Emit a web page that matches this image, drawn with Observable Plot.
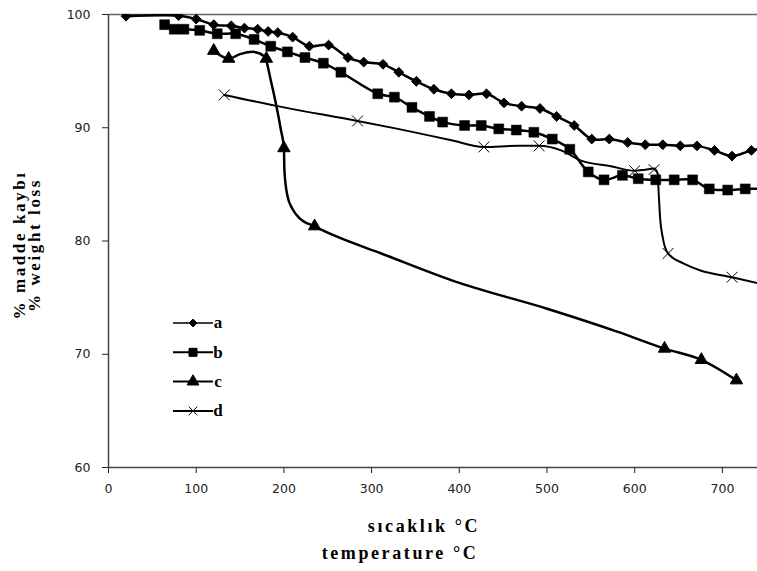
<!DOCTYPE html>
<html><head><meta charset="utf-8">
<script src="https://cdn.jsdelivr.net/npm/d3@7"></script>
<script src="https://cdn.jsdelivr.net/npm/@observablehq/plot@0.6"></script>
<style>
body{margin:0;background:#fff;}
#chart{position:relative;width:757px;height:571px;}
</style></head><body><div id="chart"></div>
<script>
// x ticks / y ticks
const xTicks = [0,100,200,300,400,500,600,700];
const yTicks = [60,70,80,90,100];

// series a (diamonds)
const aT = [20,80,100,120,140,155,170,182,193,210,229,251,273,291,313,331,351,371,391,411,431,451,471,492,511,531,551,571,592,612,632,652,671,691,711,733,753];
const aW = [99.85,99.9,99.6,99.1,99.0,98.8,98.7,98.5,98.4,98.0,97.2,97.3,96.2,95.8,95.6,94.9,94.1,93.4,93.0,92.9,93.0,92.2,91.9,91.7,91.0,90.2,89.0,89.0,88.7,88.5,88.5,88.4,88.4,88.0,87.5,88.0,88.3];

// series b (squares)
const bT = [64,75,86,104,124,145,166,185,204,224,245,265,307,326,346,366,381,406,425,445,465,485,506,526,547,565,586,604,624,645,666,685,706,726,746];
const bW = [99.1,98.7,98.7,98.6,98.3,98.3,97.8,97.2,96.7,96.2,95.7,94.9,93.0,92.7,91.8,91.0,90.5,90.2,90.2,89.9,89.8,89.6,89.0,88.1,86.1,85.4,85.8,85.5,85.4,85.4,85.4,84.6,84.5,84.6,84.6];

// series c (triangles): markers and traced curve
const cMarkT = [120,137,180,200,235,634,676,716];
const cMarkW = [96.8,96.1,96.1,88.2,81.3,70.5,69.5,67.7];
const cLineT = [120,137,150,165,178,185,191,196.6,200,200.6,204,210,218,235,260,311,400,501,580,634,676,716];
const cLineW = [96.8,96.1,96.5,96.7,96.3,94.2,92.1,89.8,88.2,86.2,84.0,82.8,82.0,81.3,80.4,78.9,76.3,74.0,72.0,70.5,69.5,67.7];

// series d (crosses): markers and traced curve
const dMarkT = [132,284,428,491,600,622,638,711];
const dMarkW = [92.9,90.6,88.3,88.4,86.2,86.3,78.9,76.8];
const dLineT = [132,200,284,330,391,428,467,491,516,539,573,600,612,622,626,627.5,629,632,638,656,675,711,745];
const dLineW = [92.9,91.8,90.6,89.9,88.9,88.3,88.4,88.4,88.0,87.1,86.6,86.2,86.3,86.4,86.0,84.0,82.0,80.3,78.9,78.0,77.4,76.8,76.2];

const series = ["a","b","c","d"];

const zip = (T, W) => T.map((t, i) => ({t, w: W[i]}));
const aData = zip(aT, aW), bData = zip(bT, bW);
const cLine = zip(cLineT, cLineW), cMarks = zip(cMarkT, cMarkW);
const dLine = zip(dLineT, dLineW), dMarks = zip(dMarkT, dMarkW);

const serif = "Liberation Serif, Times New Roman, serif";

const plot = Plot.plot({
  width: 757, height: 571,
  marginLeft: 108, marginRight: 0, marginTop: 14, marginBottom: 104,
  style: {fontFamily: "DejaVu Sans, sans-serif", fontSize: "12.5px", color: "#222", background: "#fff"},
  x: {domain: [0, 740], ticks: xTicks, tickSize: 6, tickPadding: 11, label: null},
  y: {domain: [60, 100], ticks: yTicks, tickSize: 6, tickPadding: 12, label: null},
  marks: [
    Plot.ruleY([100], {stroke: "#666", strokeWidth: 1.5}),
    Plot.ruleY([60], {stroke: "#444", strokeWidth: 1.5}),
    Plot.ruleX([0], {stroke: "#444", strokeWidth: 1.5}),
    Plot.line(dLine, {x: "t", y: "w", curve: "monotone-x", stroke: "#000", strokeWidth: 2, clip: true}),
    Plot.line(cLine, {x: "t", y: "w", curve: "monotone-x", stroke: "#000", strokeWidth: 2.5, clip: true}),
    Plot.line(bData, {x: "t", y: "w", curve: "catmull-rom", stroke: "#000", strokeWidth: 2.5, clip: true}),
    Plot.line(aData, {x: "t", y: "w", curve: "catmull-rom", stroke: "#000", strokeWidth: 2.5, clip: true}),
    Plot.dot(dMarks, {x: "t", y: "w", symbol: "times", r: 5, stroke: "#000", strokeWidth: 1, clip: true}),
    Plot.dot(cMarks, {x: "t", y: "w", symbol: "triangle", r: 4.6, fill: "#000", stroke: "#000", strokeWidth: 1, clip: true}),
    Plot.dot(bData, {x: "t", y: "w", symbol: "square", r: 5.6, fill: "#000", stroke: "#000", strokeWidth: 0.5, clip: true}),
    Plot.dot(aData, {x: "t", y: "w", symbol: "diamond2", r: 4.4, fill: "#000", stroke: "#000", strokeWidth: 1, clip: true}),
    Plot.text(["% madde kaybı\n% weight loss"], {frameAnchor: "left", textAnchor: "middle", rotate: -90, dx: -81, dy: 4, fontFamily: serif, fontWeight: "bold", fontSize: 17, lineHeight: 0.88, fill: "#000"}),
    Plot.text(["sıcaklık °C"], {frameAnchor: "bottom", textAnchor: "middle", dx: -9, dy: 64, lineAnchor: "bottom", fontFamily: serif, fontWeight: "bold", fontSize: 18, fill: "#000"}),
    Plot.text(["temperature °C"], {frameAnchor: "bottom", textAnchor: "middle", dx: -33, dy: 91, lineAnchor: "bottom", fontFamily: serif, fontWeight: "bold", fontSize: 18, fill: "#000"})
  ]
});
document.getElementById("chart").appendChild(plot);

const svg = d3.select(plot);
// widen the title lettering like the reference
svg.selectAll('g[aria-label="text"] text').style("letter-spacing", "2.6px");

// legend inside the frame
const legendSymbols = {a: d3.symbolDiamond2, b: d3.symbolSquare, c: d3.symbolTriangle, d: d3.symbolTimes};
const legendSizes = {a: 40, b: 64, c: 60, d: 50};
const lg = svg.append("g").attr("transform", "translate(173,323)");
series.forEach((s, i) => {
  const row = lg.append("g").attr("transform", `translate(0,${i * 29.3})`);
  row.append("line").attr("x1", 0).attr("x2", 40).attr("y1", 0).attr("y2", 0)
    .attr("stroke", "#000").attr("stroke-width", s === "a" ? 1.5 : 2);
  row.append("path").attr("d", d3.symbol(legendSymbols[s], legendSizes[s])())
    .attr("transform", "translate(20,0)")
    .attr("fill", s === "d" ? "none" : "#000").attr("stroke", "#000").attr("stroke-width", 1);
  row.append("text").attr("x", 45).attr("y", 0).attr("dy", "0.32em")
    .attr("font-family", serif).attr("font-weight", "bold").attr("font-size", 17)
    .attr("fill", "#000").text(s);
});
</script></body></html>
